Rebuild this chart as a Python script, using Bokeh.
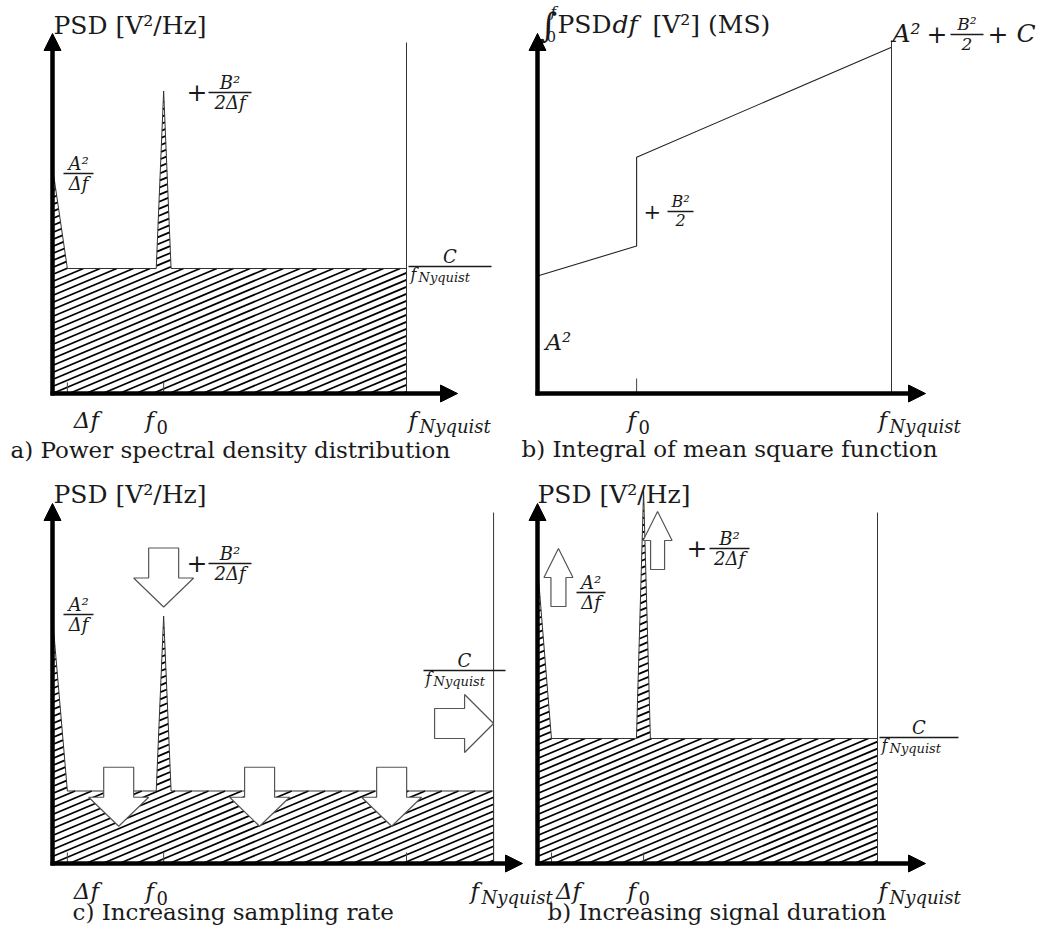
import math
from bokeh.plotting import figure
from bokeh.models import Range1d, Arrow, NormalHead
from bokeh.core.properties import value
from bokeh.embed import file_html
from bokeh.resources import INLINE

# ---------------- data (frequency in units of f_Nyquist, level in units of C/f_Nyquist) -------------
# a) power spectral density distribution
freq_a = [0.0, 0.0, 0.042, 0.293, 0.314, 0.335, 1.0, 1.0]
psd_a = [0.0, 1.81, 1.0, 1.0, 2.42, 1.0, 1.0, 0.0]
ticks_a = [0.042, 0.314]
# b) integral of mean square function
freq_b = [0.0, 0.28, 0.28, 1.0]
ms_b = [0.94, 1.18, 1.89, 2.77]
ticks_b = [0.28]
# c) increasing sampling rate
freq_c = [0.0, 0.0, 0.042, 0.293, 0.314, 0.335, 1.246, 1.246]
psd_c = [0.0, 1.97, 0.58, 0.58, 1.98, 0.58, 0.58, 0.0]
ticks_c = [0.042, 0.314, 1.0]
arrows_c = [0.187, 0.585, 0.958]
# d) increasing signal duration
freq_d = [0.0, 0.0, 0.041, 0.291, 0.312, 0.332, 1.0, 1.0]
psd_d = [0.0, 2.38, 1.0, 1.0, 2.98, 1.0, 1.0, 0.0]
ticks_d = [0.041, 0.312]

FONT = "DejaVu Serif"
INK = "#1a1a1a"
W, H = 1056, 932
OX, OY = 0, 0
BASE_SHIFT = 0.36  # empirical correction of the alphabetic baseline (in em)

p = figure(width=W, height=H, x_range=Range1d(OX, OX + W), y_range=Range1d(OY + H, OY),
           x_axis_type=None, y_axis_type=None, output_backend="svg", toolbar_location=None,
           min_border=0, outline_line_color=None, background_fill_color="white",
           border_fill_color="white")

xr, yr = {}, {}


class Panel:
    def __init__(self, name, x0, sx, y0, sy):
        self.x0, self.sx, self.y0, self.sy = x0, sx, y0, sy
        xr[name] = Range1d((OX - x0) / sx, (OX + W - x0) / sx)
        yr[name] = Range1d((y0 - OY - H) / sy, (y0 - OY) / sy)
        self.kw = dict(x_range_name=name, y_range_name=name)

    def X(self, px):
        return (px - self.x0) / self.sx

    def Y(self, py):
        return (self.y0 - py) / self.sy

    def px(self, f):
        return self.x0 + f * self.sx

    def py(self, v):
        return self.y0 - v * self.sy

    def text(self, x, y, s, size=22, style="normal", align="left"):
        y = y - BASE_SHIFT * size
        p.text(x=[self.X(x)], y=[self.Y(y)], text=[s], text_font=value(FONT),
               text_font_size=f"{size}px", text_font_style=style, text_align=align,
               text_baseline="alphabetic", text_color=INK, **self.kw)

    def hline(self, x1, x2, y, width=1.6):
        p.segment(x0=[self.X(x1)], y0=[self.Y(y)], x1=[self.X(x2)], y1=[self.Y(y)],
                  line_color=INK, line_width=width, **self.kw)

    def frac(self, x1, x2, y, num, den, size=17):
        self.hline(x1, x2, y)
        c = (x1 + x2) / 2
        self.text(c, y - 4, num, size, "italic", "center")
        if den:
            self.text(c, y + 0.92 * size, den, size, "italic", "center")

    def fsub(self, x, y, sub, size=23, subsize=18):
        self.text(x, y, "f", size, "italic")
        self.text(x + 0.48 * size, y + 0.2 * size, sub, subsize,
                  "normal" if sub == "0" else "italic")

    def cfrac(self, x1, x2, y):
        # C / f_Nyquist
        self.frac(x1, x2, y, "C", "", 18)
        self.text(x1 + 2, y + 14, "f", 16, "italic")
        self.text(x1 + 10, y + 16, "Nyquist", 13, "italic")

    def hatch(self, fs, vs, m=0.42, gap=7.0):
        top_f, top_v = fs[1:-1], vs[1:-1]
        fN = fs[-1]
        s = m * self.sx / self.sy
        da = gap / self.sy
        kmin = int(math.floor(-s * fN / da)) - 1
        kmax = int(math.ceil(max(vs) / da)) + 1
        x0s, y0s, x1s, y1s = [], [], [], []
        for k in range(kmin, kmax + 1):
            a = k * da
            ivs = []
            for i in range(len(top_f) - 1):
                xa, xb = top_f[i], top_f[i + 1]
                if xb - xa <= 1e-12:
                    continue
                ga, gb = top_v[i], top_v[i + 1]
                gs = (gb - ga) / (xb - xa)
                lo, hi = max(xa, -a / s), xb
                c0, c1 = ga - gs * xa - a, gs - s
                if abs(c1) < 1e-12:
                    if c0 < 0:
                        continue
                elif c1 > 0:
                    lo = max(lo, -c0 / c1)
                else:
                    hi = min(hi, -c0 / c1)
                if hi > lo + 1e-9:
                    if ivs and abs(ivs[-1][1] - lo) < 1e-7:
                        ivs[-1][1] = hi
                    else:
                        ivs.append([lo, hi])
            for lo, hi in ivs:
                x0s.append(lo); y0s.append(a + s * lo)
                x1s.append(hi); y1s.append(a + s * hi)
        p.segment(x0=x0s, y0=y0s, x1=x1s, y1=y1s, line_color="black", line_width=1.8,
                  **self.kw)

    def psd(self, fs, vs):
        p.patch(fs, vs, fill_color="white", line_color=None, **self.kw)
        self.hatch(fs, vs)
        p.patch(fs, vs, fill_alpha=0, line_color="#333333", line_width=1, **self.kw)

    def vline(self, f, top_px):
        p.segment(x0=[f], y0=[0], x1=[f], y1=[self.Y(top_px)], line_color="#333333",
                  line_width=1, **self.kw)

    def ticks(self, fs, length=11):
        n = len(fs)
        p.segment(x0=fs, y0=[0] * n, x1=fs, y1=[length / self.sy] * n,
                  line_color="#444444", line_width=1, **self.kw)

    def axes(self, x_tip, y_tip):
        for xs, ys, xe, ye in [(self.X(self.x0 - 2), 0, self.X(x_tip), 0),
                               (0, self.Y(self.y0 + 2), 0, self.Y(y_tip))]:
            p.add_layout(Arrow(end=NormalHead(size=17, fill_color="black", line_color="black",
                                              line_width=1),
                               x_start=xs, y_start=ys, x_end=xe, y_end=ye,
                               line_width=4.5, line_color="black", **self.kw))

    def block_arrow(self, tx, ty, direction, length=59, head_len=29, shaft_hw=15, head_hw=30):
        back, perp = {"down": ((0, -1), (1, 0)), "up": ((0, 1), (1, 0)),
                      "right": ((-1, 0), (0, 1))}[direction]
        local = [(0, 0), (head_len, head_hw), (head_len, shaft_hw), (length, shaft_hw),
                 (length, -shaft_hw), (head_len, -shaft_hw), (head_len, -head_hw)]
        xs = [self.X(tx + u * back[0] + v * perp[0]) for u, v in local]
        ys = [self.Y(ty + u * back[1] + v * perp[1]) for u, v in local]
        p.patch(xs, ys, fill_color="white", line_color="#555555", line_width=1.2, **self.kw)


A = Panel("a", 52, 354, 393, 125)
B = Panel("b", 537, 354, 393, 125)
C = Panel("c", 52, 354, 863, 125)
D = Panel("d", 537, 340, 863, 125)
p.extra_x_ranges = xr
p.extra_y_ranges = yr

# ---------------- a) ----------------
A.psd(freq_a, psd_a)
A.vline(freq_a[-1], 42)
A.ticks(ticks_a)
A.axes(457, 33)
A.text(53, 34, "PSD [V²/Hz]", 25)
A.frac(63, 93, 173, "A²", "Δf", 18)
A.text(186, 100, "+", 25)
A.frac(208, 251, 92, "B²", "2Δf", 18)
A.cfrac(408, 491, 266)
A.text(A.px(ticks_a[0]) + 19, 428, "Δf", 23, "italic", "center")
A.fsub(145, 428, "0")
A.fsub(408, 428, "Nyquist")
A.text(10, 458, "a) Power spectral density distribution", 23)

# ---------------- b) ----------------
p.line(freq_b, ms_b, line_color="#222222", line_width=1.1, **B.kw)
B.vline(freq_b[-1], 40)
B.ticks(ticks_b, 15)
B.axes(925, 33)
B.text(539, 37, "∫", 34)
B.text(550, 17, "f", 15, "italic")
B.text(546, 41, "0", 15)
B.text(557, 33, "PSD", 25)
B.text(612, 33, "df", 25, "italic")
B.text(652, 33, "[V²] (MS)", 25)
B.text(892, 42, "A²", 25, "italic")
B.text(926, 42, "+", 25)
B.frac(950, 983, 34, "B²", "2", 17)
B.text(987, 42, "+", 25)
B.text(1016, 42, "C", 25, "italic")
B.text(643, 219, "+", 21)
B.frac(667, 693, 211, "B²", "2", 16)
B.text(545, 350, "A²", 23, "italic")
B.fsub(627, 428, "0")
B.fsub(878, 428, "Nyquist")
B.text(521, 457, "b) Integral of mean square function", 23)

# ---------------- c) ----------------
C.psd(freq_c, psd_c)
C.vline(freq_c[-1], 512)
C.ticks(ticks_c)
C.axes(522, 503)
C.block_arrow(C.px(freq_c[4]), C.py(psd_c[4]) - 9, "down")
for f in arrows_c:
    C.block_arrow(C.px(f), C.py(psd_c[2] / 2) - 1, "down")
C.block_arrow(C.px(freq_c[-1]), 723, "right", shaft_hw=15, head_hw=29)
C.text(53, 503, "PSD [V²/Hz]", 25)
C.frac(63, 93, 614, "A²", "Δf", 18)
C.text(186, 571, "+", 25)
C.frac(208, 251, 563, "B²", "2Δf", 18)
C.cfrac(423, 505, 670)
C.text(C.px(ticks_c[0]) + 19, 899, "Δf", 23, "italic", "center")
C.fsub(145, 899, "0")
C.fsub(470, 899, "Nyquist")
C.text(72, 920, "c) Increasing sampling rate", 23)

# ---------------- d) ----------------
D.psd(freq_d, psd_d)
D.vline(freq_d[-1], 512)
D.ticks(ticks_d)
D.axes(925, 503)
D.block_arrow(D.px(ticks_d[0]) + 7, 548, "up", length=58, head_len=29, shaft_hw=7.5, head_hw=14.5)
D.block_arrow(D.px(ticks_d[1]) + 14, 511, "up", length=58, head_len=29, shaft_hw=7, head_hw=14.5)
D.text(537, 503, "PSD [V²/Hz]", 25)
D.frac(576, 605, 592, "A²", "Δf", 18)
D.text(686, 556, "+", 25)
D.frac(709, 749, 548, "B²", "2Δf", 18)
D.cfrac(879, 958, 737)
D.text(D.px(ticks_d[0]) + 17, 899, "Δf", 23, "italic", "center")
D.fsub(627, 899, "0")
D.fsub(878, 899, "Nyquist")
D.text(547, 920, "b) Increasing signal duration", 23)

open("out.html", "w").write(file_html(p, INLINE))
